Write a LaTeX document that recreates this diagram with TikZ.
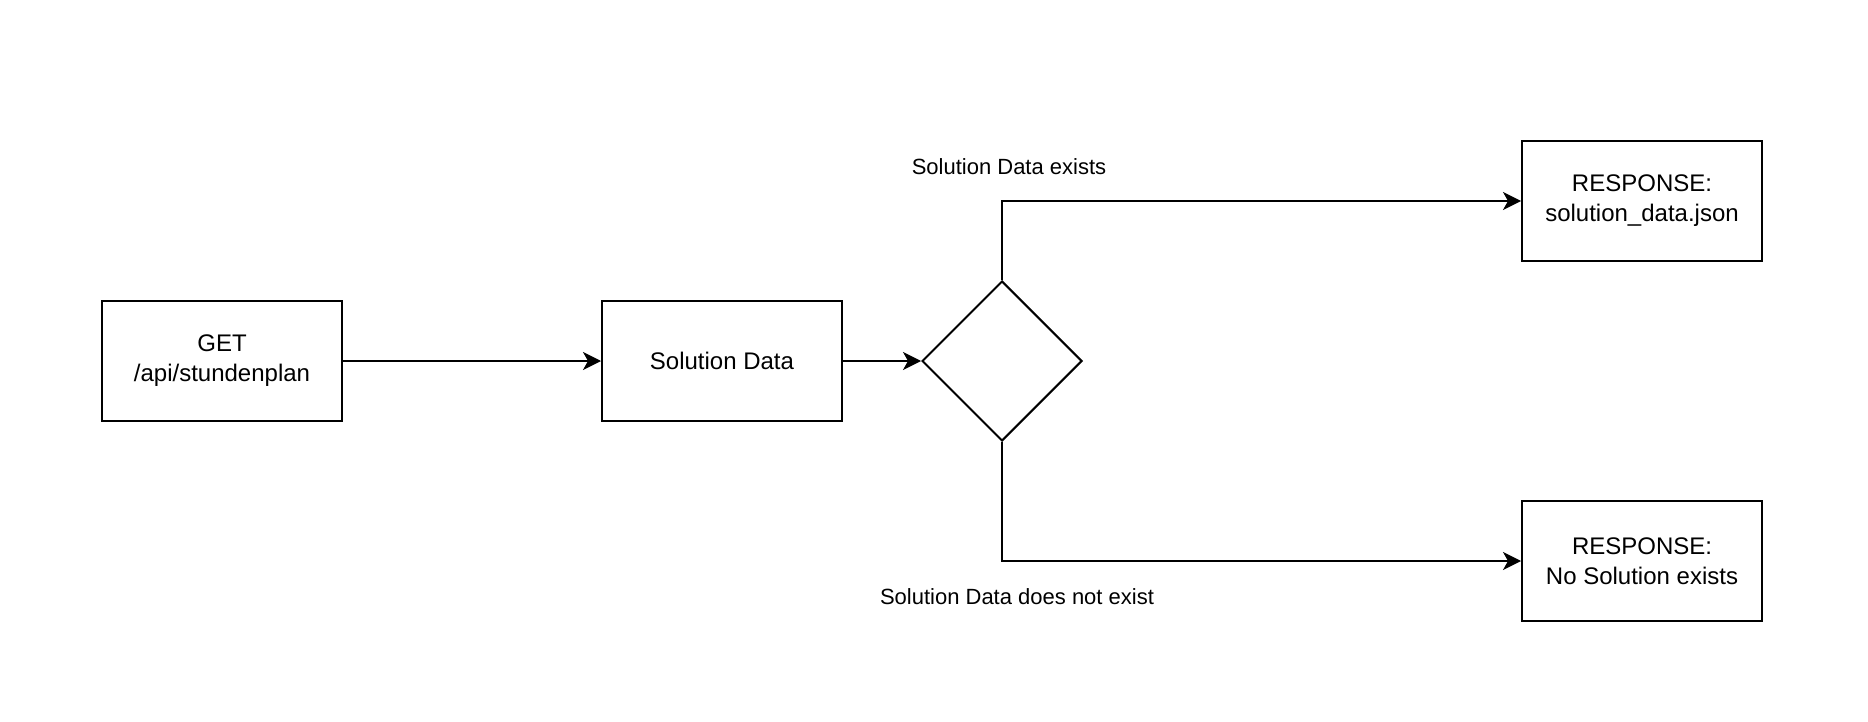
\documentclass[tikz,border=0pt]{standalone}
\usepackage{fontspec}
\setmainfont{Liberation Sans}
\usetikzlibrary{arrows.meta,shapes.geometric}
\begin{document}
\begin{tikzpicture}[x=0.5pt,y=-0.5pt,line width=1pt,
  box/.style={draw,minimum width=120pt,minimum height=60pt,align=center,font=\fontsize{12}{15}\selectfont},
  choice/.style={draw,diamond,minimum width=80pt,minimum height=80pt,inner sep=0pt},
  lbl/.style={font=\fontsize{11}{13}\selectfont},
  arr/.style={-{Stealth[length=9pt,width=9pt,inset=2.5pt]}}]
\useasboundingbox (0,0) rectangle (1868,722);
\node[box] (get) at (222,361) {GET\\/api/stundenplan};
\node[box] (sol) at (722,361) {Solution Data};
\node[choice] (dec) at (1002,361) {};
\node[box] (yes) at (1642,201) {RESPONSE:\\solution\_data.json};
\node[box] (no) at (1642,561) {RESPONSE:\\No Solution exists};
\node[lbl] (yeslbl) at (1009,167) {Solution Data exists};
\node[lbl] (nolbl) at (1017,597) {Solution Data does not exist};
\draw[arr] (get) -- (sol);
\draw[arr] (sol) -- (dec);
\draw[arr] (dec.north) |- (yes.west);
\draw[arr] (dec.south) |- (no.west);
\end{tikzpicture}
\end{document}
